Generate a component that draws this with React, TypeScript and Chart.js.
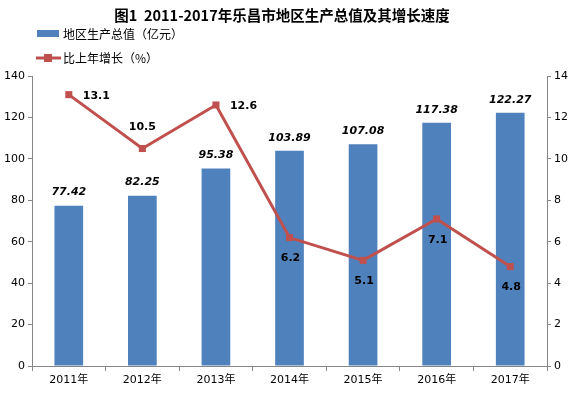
import React, { useEffect, useRef } from "react";
import { Chart, registerables } from "chart.js";
Chart.register(...registerables);

const categories = ["2011年", "2012年", "2013年", "2014年", "2015年", "2016年", "2017年"];
const gdpValues = [77.42, 82.25, 95.38, 103.89, 107.08, 117.38, 122.27];
const growthValues = [13.1, 10.5, 12.6, 6.2, 5.1, 7.1, 4.8];
const gdpLabel = "地区生产总值（亿元）";
const growthLabel = "比上年增长（%）";
const titleText = "图1  2011-2017年乐昌市地区生产总值及其增长速度";
// label placement per growth point: r = right, t = top, b = bottom
const growthLabelPos = ["r", "t", "r", "b", "b", "b", "b"];

const BAR = "#4F81BD";
const LINE = "#C0504D";
const AXIS = "#868686";
const CJK = '"Noto Sans CJK SC", "DejaVu Sans", sans-serif';
const TICKFONT = '"DejaVu Sans", "Noto Sans CJK SC", sans-serif';

const decorPlugin = {
  id: "decor",
  afterDraw(chart: any) {
    const ctx = chart.ctx;
    ctx.save();
    // title
    ctx.fillStyle = "#000";
    ctx.font = `bold 14.5px ${CJK}`;
    ctx.textAlign = "center";
    ctx.textBaseline = "middle";
    ctx.fillText(titleText, 282, 15);
    // legend
    ctx.fillStyle = BAR;
    ctx.fillRect(37, 30, 22, 7);
    ctx.strokeStyle = LINE;
    ctx.lineWidth = 3;
    ctx.beginPath();
    ctx.moveTo(36, 58);
    ctx.lineTo(61, 58);
    ctx.stroke();
    ctx.fillStyle = LINE;
    ctx.fillRect(44, 54, 8, 8);
    ctx.fillStyle = "#000";
    ctx.font = `12px ${CJK}`;
    ctx.textAlign = "left";
    ctx.fillText(gdpLabel, 63, 34);
    ctx.fillText(growthLabel, 63, 58);

    // bar labels
    const barMeta = chart.getDatasetMeta(0);
    ctx.font = `italic bold 11px ${TICKFONT}`;
    ctx.textAlign = "center";
    barMeta.data.forEach((el: any, i: number) => {
      ctx.fillText(gdpValues[i].toFixed(2), el.x, el.y - 13);
    });
    // line labels
    const lineMeta = chart.getDatasetMeta(1);
    ctx.font = `bold 11px ${TICKFONT}`;
    lineMeta.data.forEach((el: any, i: number) => {
      const p = growthLabelPos[i];
      const t = growthValues[i].toFixed(1);
      if (p === "r") {
        ctx.textAlign = "left";
        ctx.fillText(t, el.x + 14, el.y + 1);
      } else if (p === "t") {
        ctx.textAlign = "center";
        ctx.fillText(t, el.x, el.y - 21);
      } else {
        ctx.textAlign = "center";
        ctx.fillText(t, el.x + 1, el.y + 21);
      }
    });
    ctx.restore();
  },
};

export default function App() {
  const ref = useRef<HTMLCanvasElement | null>(null);
  useEffect(() => {
    if (!ref.current) return;
    const chart = new Chart(ref.current, {
      type: "bar",
      data: {
        labels: categories,
        datasets: [
          {
            type: "bar",
            label: gdpLabel,
            data: gdpValues,
            backgroundColor: BAR,
            yAxisID: "y",
            categoryPercentage: 0.39,
            barPercentage: 1,
            order: 2,
          },
          {
            type: "line",
            label: growthLabel,
            data: growthValues,
            borderColor: LINE,
            backgroundColor: LINE,
            borderWidth: 3,
            pointStyle: "rect",
            pointRadius: 5,
            pointBorderWidth: 0,
            yAxisID: "y1",
            order: 1,
          } as any,
        ],
      },
      options: {
        animation: false,
        responsive: false,
        layout: { padding: { top: 76, left: 0, right: 0, bottom: 0 } },
        plugins: { legend: { display: false }, title: { display: false }, tooltip: { enabled: false } },
        scales: {
          x: {
            offset: true,
            grid: { display: true, offset: true, drawOnChartArea: false, color: AXIS, tickLength: 5 },
            border: { color: AXIS, width: 1 },
            ticks: { color: "#000", font: { size: 11, family: TICKFONT }, padding: 3, maxRotation: 0 },
            afterFit: (s: any) => { s.height = 29; },
          },
          y: {
            position: "left",
            min: 0,
            max: 140,
            ticks: { stepSize: 20, color: "#000", font: { size: 11, family: TICKFONT }, padding: 3 },
            grid: { display: true, drawOnChartArea: false, color: AXIS, tickLength: 4 },
            border: { color: AXIS, width: 1 },
            afterFit: (s: any) => { s.width = 32; },
          },
          y1: {
            position: "right",
            min: 0,
            max: 14,
            ticks: { stepSize: 2, color: "#000", font: { size: 11, family: TICKFONT }, padding: 3 },
            grid: { display: true, drawOnChartArea: false, color: AXIS, tickLength: 4 },
            border: { color: AXIS, width: 1 },
            afterFit: (s: any) => { s.width = 29; },
          },
        },
      },
      plugins: [decorPlugin],
    });
    return () => chart.destroy();
  }, []);
  return (
    <div style={{ position: "fixed", left: 0, top: 0, width: 576, height: 395, background: "#fff" }}>
      <canvas ref={ref} width={576} height={395} style={{ width: 576, height: 395 }} />
    </div>
  );
}
